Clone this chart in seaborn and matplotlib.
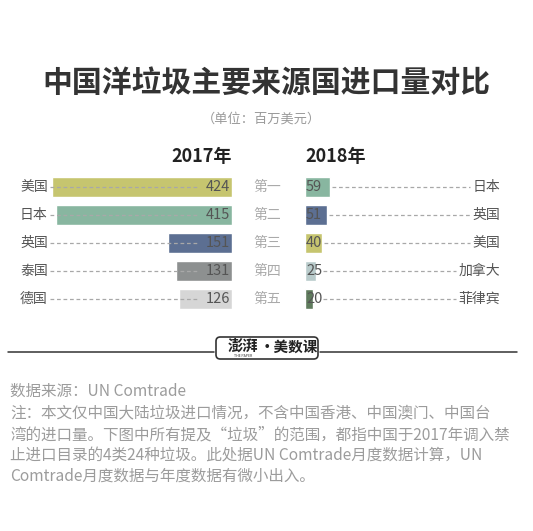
import matplotlib
matplotlib.use("Agg")
import matplotlib.pyplot as plt
import seaborn as sns
import pandas as pd
from matplotlib.patches import FancyBboxPatch
from matplotlib.lines import Line2D

sns.set_theme(style="white")
plt.rcParams['font.family'] = ['Noto Sans CJK SC', 'DejaVu Sans']

# ---- data ----
countries_2017 = ['美国', '日本', '英国', '泰国', '德国']
values_2017 = [424, 415, 151, 131, 126]
countries_2018 = ['日本', '英国', '美国', '加拿大', '菲律宾']
values_2018 = [59, 51, 40, 25, 20]
ranks = ['第一', '第二', '第三', '第四', '第五']
title = '中国洋垃圾主要来源国进口量对比'
subtitle = '（单位：百万美元）'
year_labels = ['2017年', '2018年']
footer_lines = [
    '数据来源：UN Comtrade',
    '注：本文仅中国大陆垃圾进口情况，不含中国香港、中国澳门、中国台',
    '湾的进口量。下图中所有提及“垃圾”的范围，都指中国于2017年调入禁',
    '止进口目录的4类24种垃圾。此处据UN Comtrade月度数据计算，UN',
    'Comtrade月度数据与年度数据有微小出入。',
]
country_colors = {
    '美国': '#c6c56f', '日本': '#88b6a0', '英国': '#5c6f92', '泰国': '#8d9090',
    '德国': '#d6d6d6', '加拿大': '#b9cbcb', '菲律宾': '#5f7b5d',
}

W, H = 533, 531
fig = plt.figure(figsize=(W / 100, H / 100), dpi=100)
fig.patch.set_facecolor('white')

def fx(px):
    return px / W

def fy(py):
    return 1 - py / H

PX_PER_UNIT = 0.4245
row_top, row_bot = 173, 313
ax_b = fy(row_bot)
ax_h = (row_bot - row_top) / H

# left axes (2017), bars grow leftwards
left_w = 232
axL = fig.add_axes([0, ax_b, fx(left_w), ax_h])
df17 = pd.DataFrame({'country': countries_2017, 'value': values_2017})
sns.barplot(data=df17, x='value', y='country', hue='country', order=countries_2017,
            palette=country_colors, orient='h', width=0.72, saturation=1,
            legend=False, ax=axL, zorder=1)
axL.set_xlim(left_w / PX_PER_UNIT, 0)
axL.set_ylim(4.5, -0.5)
axL.axis('off')

# right axes (2018)
right_x0 = 305
right_w = W - right_x0
axR = fig.add_axes([fx(right_x0), ax_b, fx(right_w), ax_h])
df18 = pd.DataFrame({'country': countries_2018, 'value': values_2018})
sns.barplot(data=df18, x='value', y='country', hue='country', order=countries_2018,
            palette=country_colors, orient='h', width=0.72, saturation=1,
            legend=False, ax=axR, zorder=1)
axR.set_xlim(0, right_w / PX_PER_UNIT)
axR.set_ylim(4.5, -0.5)
axR.axis('off')

label_color = '#555555'
dash_color = '#a8a8a8'
tL = axL.get_yaxis_transform()
tR = axR.get_yaxis_transform()

for i, (c, v) in enumerate(zip(countries_2017, values_2017)):
    axL.text(20 / left_w, i, c, transform=tL, ha='left', va='center',
             fontsize=10, color=label_color)
    axL.plot([50 / left_w, 1 - 33 / left_w], [i, i], transform=tL,
             color=dash_color, lw=0.9, ls=(0, (3, 2.2)), zorder=2)
    axL.text(1 - 2 / left_w, i, str(v), transform=tL, ha='right', va='center',
             fontsize=10.5, color=label_color, zorder=3)
    axL.text(267 / left_w, i, ranks[i], transform=tL, ha='center', va='center',
             fontsize=10, color='#aaaaaa', clip_on=False)

for i, (c, v) in enumerate(zip(countries_2018, values_2018)):
    axR.text(1 / right_w, i, str(v), transform=tR, ha='left', va='center',
             fontsize=10.5, color=label_color, zorder=3)
    start_px = max(v * PX_PER_UNIT, 16) + 2
    end_px = (500 - right_x0) - 14 * len(c) - 2
    axR.plot([start_px / right_w, end_px / right_w], [i, i], transform=tR,
             color=dash_color, lw=0.9, ls=(0, (3, 2.2)), zorder=2)
    axR.text((500 - right_x0) / right_w, i, c, transform=tR, ha='right',
             va='center', fontsize=10, color=label_color)

# titles
fig.text(0.5, fy(83), title, ha='center', va='center', fontsize=21.5,
         fontweight='bold', color='#333333')
fig.text(fx(261), fy(119), subtitle, ha='center', va='center', fontsize=9.5,
         color='#9a9a9a')
fig.text(fx(232), fy(157), year_labels[0], ha='right', va='center', fontsize=13,
         fontweight='bold', color='#222222')
fig.text(fx(305), fy(157), year_labels[1], ha='left', va='center', fontsize=13,
         fontweight='bold', color='#222222')

# divider + logo
line_y = fy(352)
fig.add_artist(Line2D([fx(8), fx(214)], [line_y, line_y], color='#333333', lw=1.1))
fig.add_artist(Line2D([fx(320), fx(517)], [line_y, line_y], color='#333333', lw=1.1))
box = FancyBboxPatch((fx(216), fy(359)), fx(102), (359 - 337) / H,
                     boxstyle='round,pad=0,rounding_size=0.008',
                     transform=fig.transFigure, fill=False, ec='#333333', lw=1.2)
fig.add_artist(box)
fig.text(fx(243), fy(346), '澎湃', ha='center', va='center', fontsize=11,
         fontweight='bold', color='#222222', style='italic')
fig.text(fx(243), fy(356), 'THE PAPER', ha='center', va='center', fontsize=2.5,
         color='#333333')
fig.text(fx(289), fy(347), '·美数课', ha='center', va='center', fontsize=10.5,
         fontweight='bold', color='#222222')

# footer
ys = [391, 413, 434.5, 455.5, 476.5]
for y, t in zip(ys, footer_lines):
    fig.text(fx(10), fy(y), t, ha='left', va='center', fontsize=11.2,
             color='#9c9c9c')

fig.savefig('out.png', dpi=100, facecolor='white')
